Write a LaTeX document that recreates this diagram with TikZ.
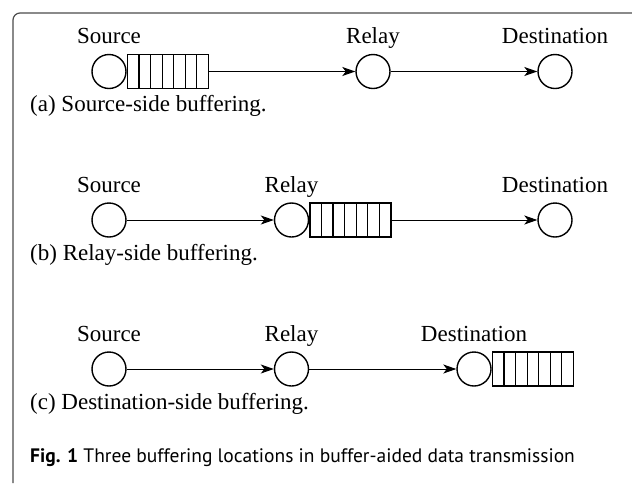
\documentclass[tikz,border=0pt]{standalone}
\usepackage{fontspec}
\setmainfont{Liberation Serif}
\newfontfamily\capfont{PT Sans}
\usetikzlibrary{arrows.meta,calc}
\begin{document}
\begin{tikzpicture}[x=1pt,y=-1pt,
  nd/.style={draw, circle, line width=1.4pt, minimum size=34pt, inner sep=0pt},
  buf/.style={draw, rectangle, line width=1.4pt, minimum width=81pt, minimum height=34pt, inner sep=0pt,
    path picture={\foreach \i in {1,...,6}{\draw[line width=1.2pt]
      ($(path picture bounding box.south west)!\i/7!(path picture bounding box.south east)$) --
      ($(path picture bounding box.north west)!\i/7!(path picture bounding box.north east)$);}}},
  arr/.style={-{Stealth[length=13pt,width=9pt,inset=3.5pt]}, line width=1pt},
  lab/.style={anchor=base, inner sep=0pt, font=\fontsize{23}{27}\selectfont},
  sub/.style={anchor=base west, inner sep=0pt, font=\fontsize{23}{27}\selectfont},
  frm/.style={draw=black!70, line width=1.2pt, rounded corners=7pt}
]
\useasboundingbox (0,0) rectangle (632,483);
\draw[frm] (13,483) -- (13,13) -- (632,13);

% row a
\node[nd] (s1) at (109,71.5) {};
\node[buf, anchor=west] (b1) at (s1.east) {};
\node[nd] (r1) at (373,71.5) {};
\node[nd] (d1) at (555,71.5) {};
\draw[arr] (b1) -- (r1);
\draw[arr] (r1) -- (d1);
\node[lab] (ls1) at (109,43.5) {Source};
\node[lab] (lr1) at (373,43.5) {Relay};
\node[lab] (ld1) at (555,43.5) {Destination};
\node[sub] (ca) at (30,111.5) {(a) Source-side buffering.};

% row b
\node[nd] (s2) at (109,220) {};
\node[nd] (r2) at (291.5,220) {};
\node[buf, anchor=west] (b2) at (r2.east) {};
\node[nd] (d2) at (555,220) {};
\draw[arr] (s2) -- (r2);
\draw[arr] (b2) -- (d2);
\node[lab] (ls2) at (109,192) {Source};
\node[lab] (lr2) at (291.5,192) {Relay};
\node[lab] (ld2) at (555,192) {Destination};
\node[sub] (cb) at (30,260) {(b) Relay-side buffering.};

% row c
\node[nd] (s3) at (109,369) {};
\node[nd] (r3) at (291.5,369) {};
\node[nd] (d3) at (474,369) {};
\node[buf, anchor=west] (b3) at (d3.east) {};
\draw[arr] (s3) -- (r3);
\draw[arr] (r3) -- (d3);
\node[lab] (ls3) at (109,341) {Source};
\node[lab] (lr3) at (291.5,341) {Relay};
\node[lab] (ld3) at (474,341) {Destination};
\node[sub] (cc) at (30,409) {(c) Destination-side buffering.};

\node[anchor=base west, inner sep=0pt, font=\capfont\fontsize{19.5}{23}\selectfont] (cap) at (30,462)
  {\textbf{Fig. 1} Three buffering locations in buffer-aided data transmission};
\end{tikzpicture}
\end{document}
